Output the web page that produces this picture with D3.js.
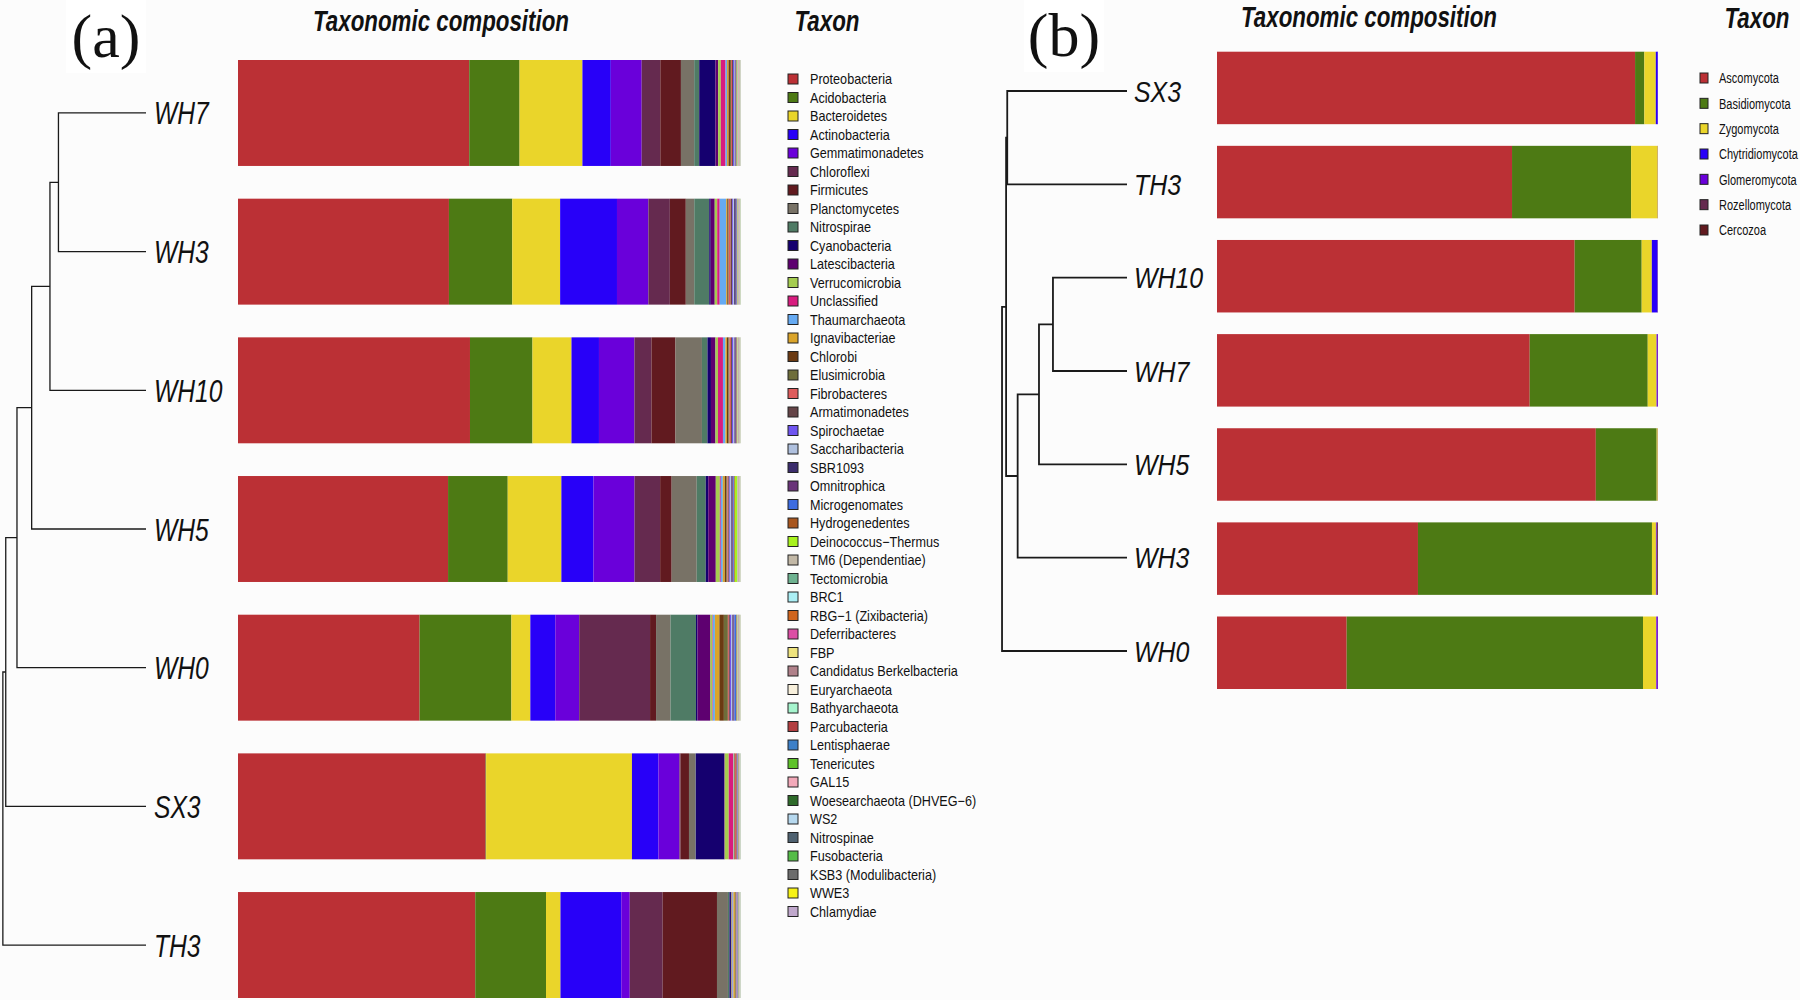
<!DOCTYPE html>
<html>
<head>
<meta charset="utf-8">
<script src="https://cdnjs.cloudflare.com/ajax/libs/d3/7.8.5/d3.min.js"></script>
<style>
  body { margin: 0; background: #fcfcfc; }
  text { font-family: "Liberation Sans", Arial, sans-serif; fill: #111; }
</style>
</head>
<body>
<div id="chart"></div>
<script>
// ---- panel (a): bacteria ----
var phylaA = ["Proteobacteria", "Acidobacteria", "Bacteroidetes", "Actinobacteria", "Gemmatimonadetes",
  "Chloroflexi", "Firmicutes", "Planctomycetes", "Nitrospirae", "Cyanobacteria", "Latescibacteria",
  "Verrucomicrobia", "Unclassified", "Thaumarchaeota", "Ignavibacteriae", "Chlorobi", "Elusimicrobia",
  "Fibrobacteres", "Armatimonadetes", "Spirochaetae", "Saccharibacteria", "SBR1093", "Omnitrophica",
  "Microgenomates", "Hydrogenedentes", "Deinococcus\u2212Thermus", "TM6 (Dependentiae)", "Tectomicrobia",
  "BRC1", "RBG\u22121 (Zixibacteria)", "Deferribacteres", "FBP", "Candidatus Berkelbacteria",
  "Euryarchaeota", "Bathyarchaeota", "Parcubacteria", "Lentisphaerae", "Tenericutes", "GAL15",
  "Woesearchaeota (DHVEG\u22126)", "WS2", "Nitrospinae", "Fusobacteria", "KSB3 (Modulibacteria)",
  "WWE3", "Chlamydiae"];

var colorsA = ["#bb3035", "#4d7a14", "#ead52a", "#2800f8", "#6a00da", "#652a4f", "#611a1f", "#787266",
  "#4f7b65", "#15006f", "#5e0070", "#a5cc50", "#d81c7f", "#66aaf2", "#daa42a", "#6b3a12", "#6e6d3a",
  "#de5c5c", "#644447", "#6f55f0", "#afc0de", "#3b2c6c", "#6a3479", "#3d6ce0", "#a8561e", "#a8f21e",
  "#c2b8a6", "#6eb290", "#abeff5", "#d0651e", "#dc4fa5", "#eee37e", "#b0818a", "#f8f0dc", "#a6f5ce",
  "#b23e40", "#3d80c8", "#5ec12a", "#f2a9b9", "#2e6a2a", "#b6d8ee", "#4e6170", "#55bc48", "#6c6c6c",
  "#f7f217", "#c0a8cc"];

var samplesA = ["WH7", "WH3", "WH10", "WH5", "WH0", "SX3", "TH3"];

var bacWH7 = [46.2, 10.05, 12.56, 5.67, 6.17, 3.72, 4.12, 2.65, 1.0, 3.24, 0.54, 0.54, 0.94, 0.3, 0.3, 0.3,
  0.2, 0.2, 0.2, 0.2, 0.15, 0.1, 0.1, 0.1, 0.1, 0.1, 0.08, 0.08, 0.06, 0.05, 0.05, 0.05, 0.04, 0.03, 0.03,
  0.03, 0.02, 0.02, 0.02, 0.02, 0.01, 0.01, 0.01, 0.01, 0.01, 0.01];
var bacWH3 = [42.3, 12.7, 9.6, 11.4, 6.3, 4.3, 3.2, 1.7, 3.0, 0.3, 0.8, 0.5, 0.5, 1.3, 0.2, 0.15, 0.15, 0.4,
  0.3, 0.2, 0.2, 0.3, 0.15, 0.1, 0.1, 0.05, 0.1, 0.08, 0.05, 0.05, 0.04, 0.03, 0.03, 0.03, 0.02, 0.02, 0.02,
  0.02, 0.01, 0.01, 0.01, 0.01, 0.01, 0.01, 0.01, 0.01];
var bacWH10 = [46.4, 12.5, 7.8, 5.5, 7.1, 3.4, 4.8, 5.3, 1.1, 0.7, 0.9, 0.5, 1.0, 0.5, 0.3, 0.3, 0.2, 0.3,
  0.2, 0.3, 0.2, 0.15, 0.15, 0.1, 0.1, 0.1, 0.1, 0.08, 0.05, 0.05, 0.05, 0.04, 0.03, 0.03, 0.03, 0.02, 0.02,
  0.02, 0.02, 0.01, 0.01, 0.01, 0.01, 0.01, 0.01, 0.01];
var bacWH5 = [41.9, 11.9, 10.7, 6.4, 8.2, 5.1, 2.3, 5.0, 1.8, 0.5, 1.5, 0.8, 0.2, 0.4, 0.4, 0.3, 0.2, 0.2,
  0.2, 0.2, 0.2, 0.2, 0.2, 0.15, 0.15, 0.5, 0.1, 0.1, 0.05, 0.05, 0.05, 0.04, 0.03, 0.03, 0.03, 0.02, 0.02,
  0.02, 0.02, 0.01, 0.01, 0.01, 0.01, 0.01, 0.01, 0.01];
var bacWH0 = [36.4, 18.4, 3.8, 5.0, 4.8, 14.2, 1.2, 2.9, 5.1, 0.3, 2.6, 0.4, 0.1, 0.4, 0.9, 0.9, 0.8, 0.2,
  0.2, 0.3, 0.2, 0.2, 0.2, 0.4, 0.1, 0.1, 0.1, 0.1, 0.05, 0.05, 0.05, 0.04, 0.03, 0.03, 0.03, 0.02, 0.02,
  0.02, 0.02, 0.01, 0.01, 0.01, 0.01, 0.01, 0.01, 0.01];
var bacSX3 = [49.5, 0.1, 29.15, 5.3, 4.2, 0.2, 1.7, 1.3, 0.05, 5.7, 0.1, 0.8, 0.9, 0.1, 0.1, 0.1, 0.05, 0.3,
  0.1, 0.1, 0.05, 0.05, 0.05, 0.05, 0.05, 0.05, 0.03, 0.03, 0.03, 0.02, 0.02, 0.02, 0.02, 0.01, 0.01, 0.01,
  0.01, 0.01, 0.01, 0.01, 0.01, 0.01, 0.01, 0.01, 0.01, 0.01];
var bacTH3 = [47.6, 14.2, 2.9, 12.2, 1.7, 6.6, 10.9, 2.2, 0.3, 0.3, 0.1, 0.1, 0.1, 0.2, 0.3, 0.1, 0.1, 0.1,
  0.05, 0.05, 0.1, 0.05, 0.05, 0.1, 0.05, 0.05, 0.05, 0.03, 0.03, 0.02, 0.02, 0.02, 0.02, 0.01, 0.01, 0.01,
  0.01, 0.01, 0.01, 0.01, 0.01, 0.01, 0.01, 0.01, 0.01, 0.01];

// merges: [child, child, height]; a number points to an earlier merge
var treeA = [["WH7", "WH3", 0.608], [0, "WH10", 0.667], [1, "WH5", 0.794], [2, "WH0", 0.896],
  [3, "SX3", 0.974], [4, "TH3", 0.994]];

// ---- panel (b): fungi ----
var phylaB = ["Ascomycota", "Basidiomycota", "Zygomycota", "Chytridiomycota", "Glomeromycota",
  "Rozellomycota", "Cercozoa"];
var colorsB = ["#bb3035", "#4d7a14", "#ead52a", "#2800f8", "#6a00da", "#652a4f", "#611a1f"];
var samplesB = ["SX3", "TH3", "WH10", "WH7", "WH5", "WH3", "WH0"];

var funSX3 = [94.8, 2.1, 2.6, 0.45, 0.05, 0.0, 0.0];
var funTH3 = [66.9, 27.0, 6.05, 0.02, 0.02, 0.01, 0.0];
var funWH10 = [81.1, 15.2, 2.3, 1.3, 0.05, 0.03, 0.02];
var funWH7 = [71.0, 26.8, 2.0, 0.05, 0.25, 0.02, 0.01];
var funWH5 = [85.9, 13.8, 0.25, 0.02, 0.02, 0.01, 0.0];
var funWH3 = [45.6, 53.1, 0.9, 0.05, 0.15, 0.25, 0.02];
var funWH0 = [29.4, 67.2, 3.0, 0.02, 0.35, 0.03, 0.0];

var treeB = [["WH10", "WH7", 0.583], [0, "WH5", 0.693], [1, "WH3", 0.861], ["SX3", "TH3", 0.943],
  [3, 2, 0.952], [4, "WH0", 0.984]];

var svgWidth = 1800;
var svgHeight = 1000;

var svg = d3.select("#chart")
  .append("svg")
  .attr("width", svgWidth)
  .attr("height", svgHeight);

svg.append("rect").attr("width", svgWidth).attr("height", svgHeight).attr("fill", "#fcfcfc");

// narrow-looking text: scale horizontally around the anchor point
function addText(g, x, y, txt, size, sx, anchor, weight, italic) {
  return g.append("text")
    .attr("transform", `translate(${x},${y}) scale(${sx},1)`)
    .attr("text-anchor", anchor || "start")
    .style("font-size", size + "px")
    .style("font-weight", weight || "normal")
    .style("font-style", italic ? "italic" : "normal")
    .text(txt);
}

function buildRows(samples, phyla, arrays) {
  return samples.map(function(s, i) {
    var vals = arrays[i];
    var total = d3.sum(vals);
    var row = {sample: s};
    phyla.forEach(function(p, j) { row[p] = vals[j] / total * 100; });
    return row;
  });
}

function drawTree(g, merges, leafY, hx, leafEnd, lineWidth) {
  var nodes = [];
  function pos(ref) {
    if (typeof ref === "number") return nodes[ref];
    return {x: leafEnd, y: leafY(ref)};
  }
  merges.forEach(function(m) {
    var a = pos(m[0]), b = pos(m[1]), x = hx(m[2]);
    g.append("path")
      .attr("d", `M${a.x},${a.y}H${x}V${b.y}H${b.x}`)
      .attr("fill", "none")
      .attr("stroke", "#1a1a1a")
      .attr("stroke-width", lineWidth);
    nodes.push({x: x, y: (a.y + b.y) / 2});
  });
}

function drawPanel(cfg) {
  var g = svg.append("g");
  var rows = buildRows(cfg.samples, cfg.phyla, cfg.values);
  var series = d3.stack().keys(cfg.phyla)(rows);

  var x = d3.scaleLinear().domain([0, 100]).range(cfg.barX);
  var y = d3.scaleBand().domain(cfg.samples).range(cfg.barY).paddingInner(cfg.pad).paddingOuter(0);
  var color = d3.scaleOrdinal().domain(cfg.phyla).range(cfg.colors);

  // stacked bars
  g.selectAll("g.layer")
    .data(series)
    .enter()
    .append("g")
    .attr("class", "layer")
    .attr("fill", d => color(d.key))
    .selectAll("rect")
    .data(d => d)
    .enter()
    .append("rect")
    .attr("x", d => x(d[0]))
    .attr("y", d => y(d.data.sample))
    .attr("width", d => Math.max(0, x(d[1]) - x(d[0])))
    .attr("height", y.bandwidth());

  // dendrogram + leaf names
  var leafY = cfg.leafY || function(s) { return y(s) + y.bandwidth() / 2; };
  var hx = d3.scaleLinear().domain([0, 1]).range(cfg.treeX);
  drawTree(g, cfg.tree, leafY, hx, cfg.treeX[0], cfg.treeWidth);

  cfg.samples.forEach(function(s) {
    addText(g, cfg.labelX, leafY(s), s, cfg.labelSize, cfg.labelScale, "start", "normal", true)
      .attr("dy", "0.36em");
  });

  // titles
  addText(g, cfg.titleX, cfg.titleY, "Taxonomic composition", 29, 0.77, "middle", "bold", true);
  addText(g, cfg.taxonX, cfg.taxonY, "Taxon", 29, 0.77, "middle", "bold", true);

  // panel letter
  g.append("rect")
    .attr("x", cfg.letterX - 40).attr("y", 0)
    .attr("width", 80).attr("height", cfg.letterY + 16)
    .attr("fill", "#ffffff");
  g.append("text")
    .attr("x", cfg.letterX)
    .attr("y", cfg.letterY)
    .attr("text-anchor", "middle")
    .style("font-family", "'Liberation Serif', 'Times New Roman', serif")
    .style("font-size", "62px")
    .text(cfg.letter);

  // legend
  var ly = d3.scalePoint().domain(cfg.phyla).range(cfg.legendY);
  var leg = g.selectAll("g.leg")
    .data(cfg.phyla)
    .enter()
    .append("g")
    .attr("class", "leg");
  leg.append("rect")
    .attr("x", cfg.legendX)
    .attr("y", d => ly(d) - cfg.keyH / 2)
    .attr("width", cfg.keyW)
    .attr("height", cfg.keyH)
    .attr("fill", d => color(d))
    .attr("stroke", "#222")
    .attr("stroke-width", 1);
  leg.each(function(d) {
    addText(d3.select(this), cfg.legendTextX, ly(d), d, cfg.legendSize, cfg.legendScale)
      .attr("dy", "0.36em");
  });
}

drawPanel({
  samples: samplesA, phyla: phylaA, colors: colorsA,
  values: [bacWH7, bacWH3, bacWH10, bacWH5, bacWH0, bacSX3, bacTH3],
  barX: [238, 740.5], barY: [60, 998], pad: 0.236,
  tree: treeA, treeX: [146, 2], treeWidth: 1.3,
  labelX: 154, labelSize: 32, labelScale: 0.77,
  titleX: 441, titleY: 31, taxonX: 827, taxonY: 31,
  letter: "(a)", letterX: 106, letterY: 57,
  legendX: 788, legendTextX: 810, legendY: [79, 911.5], keyW: 10, keyH: 10,
  legendSize: 14.5, legendScale: 0.87
});

drawPanel({
  samples: samplesB, phyla: phylaB, colors: colorsB,
  values: [funSX3, funTH3, funWH10, funWH7, funWH5, funWH3, funWH0],
  barX: [1217, 1658], barY: [51.7, 689], pad: 0.23,
  leafY: d3.scalePoint().domain(samplesB).range([91, 651]),
  tree: treeB, treeX: [1127, 1000], treeWidth: 1.8,
  labelX: 1134, labelSize: 30, labelScale: 0.83,
  titleX: 1369, titleY: 27, taxonX: 1757, taxonY: 28,
  letter: "(b)", letterX: 1064, letterY: 56,
  legendX: 1700, legendTextX: 1719, legendY: [78, 230], keyW: 8, keyH: 10,
  legendSize: 14.5, legendScale: 0.76
});
</script>
</body>
</html>
